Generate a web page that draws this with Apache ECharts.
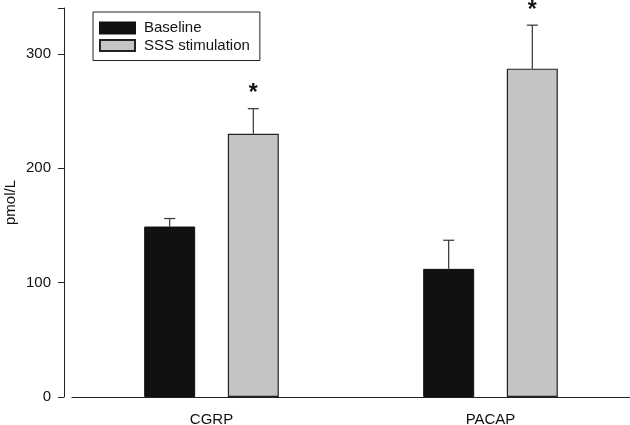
<!DOCTYPE html>
<html>
<head>
<meta charset="utf-8">
<script src="https://cdn.jsdelivr.net/npm/echarts@6/dist/echarts.min.js"></script>
<style>
html,body{margin:0;padding:0;background:#fff;}
#c{width:630px;height:425px;}
</style>
</head>
<body>
<div id="c"></div>
<script>
var categories = ['CGRP', 'PACAP'];
var seriesNames = ['Baseline', 'SSS stimulation'];
var baseline = [149, 112];
var baselineErr = [7, 25];
var stimulation = [230, 287];
var stimulationErr = [22, 38];
var stimulationSig = ['*', '*'];
var yTicks = [0, 100, 200, 300];

var FONT = 'Liberation Sans, Arial, sans-serif';
var BAR_W = 51, BAR_GAP = '64%';

function errData(vals, errs, sig) {
  return vals.map(function (v, i) { return [i, v, errs[i], sig ? sig[i] : '']; });
}

function errSeries(idx, vals, errs, sig) {
  return {
    type: 'custom',
    z: 5,
    silent: true,
    data: errData(vals, errs, sig),
    renderItem: function (params, api) {
      var cat = api.value(0), val = api.value(1), err = api.value(2);
      var mark = sig ? sig[params.dataIndex] : '';
      var layout = api.barLayout({ barWidth: BAR_W, barGap: BAR_GAP, count: 2 });
      var off = layout[idx].offsetCenter;
      var p0 = api.coord([cat, val]);
      var p1 = api.coord([cat, val + err]);
      var x = p0[0] + off;
      var cap = 5.5;
      var children = [
        { type: 'line', shape: { x1: x, y1: p0[1], x2: x, y2: p1[1] }, style: { stroke: '#333', lineWidth: 1.2 } },
        { type: 'line', shape: { x1: x - cap, y1: p1[1], x2: x + cap, y2: p1[1] }, style: { stroke: '#333', lineWidth: 1.2 } }
      ];
      if (mark) {
        children.push({ type: 'text', style: { text: mark, x: x, y: p1[1] - 15, align: 'center', verticalAlign: 'middle', font: 'bold 23px ' + FONT, fill: '#111' } });
      }
      return { type: 'group', children: children };
    }
  };
}

var chart = echarts.init(document.getElementById('c'), null, { renderer: 'canvas' });
chart.setOption({
  animation: false,
  backgroundColor: '#fff',
  textStyle: { fontFamily: FONT },
  grid: { left: 72, right: 0, top: 8, bottom: 28, containLabel: false, outerBoundsMode: 'none' },
  legend: {
    orient: 'vertical',
    left: 93, top: 12,
    padding: [8, 10, 7, 6],
    borderColor: '#222', borderWidth: 1,
    itemWidth: 35, itemHeight: 11, itemGap: 1.5,
    icon: 'rect',
    textStyle: { fontSize: 15, color: '#111', fontFamily: FONT, lineHeight: 16, padding: [0, 0, 0, 4] },
    data: seriesNames
  },
  xAxis: {
    type: 'category',
    data: categories,
    axisLine: { lineStyle: { color: '#222', width: 1 } },
    axisTick: { alignWithLabel: true, length: 5, lineStyle: { color: '#222' } },
    axisLabel: { fontSize: 15, color: '#111', margin: 15, fontFamily: FONT },
    splitLine: { show: false }
  },
  yAxis: {
    type: 'value',
    min: 0, max: 340, interval: 100,
    offset: 8,
    name: 'pmol/L',
    nameLocation: 'middle',
    nameGap: 46,
    nameMoveOverlap: false,
    nameTextStyle: { fontSize: 15, color: '#111', fontFamily: FONT },
    axisLine: { show: true, lineStyle: { color: '#222', width: 1 } },
    axisTick: { show: true, length: 6, lineStyle: { color: '#222' } },
    axisLabel: { fontSize: 15, color: '#111', margin: 13, fontFamily: FONT,
      formatter: function (v) { return yTicks.indexOf(v) >= 0 ? String(v) : ''; } },
    splitLine: { show: false }
  },
  series: [
    { name: seriesNames[0], type: 'bar', data: baseline, barWidth: BAR_W, barGap: BAR_GAP,
      itemStyle: { color: '#111111', borderColor: '#111', borderWidth: 1 } },
    { name: seriesNames[1], type: 'bar', data: stimulation, barWidth: BAR_W, barGap: BAR_GAP,
      itemStyle: { color: '#c4c4c4', borderColor: '#222', borderWidth: 1.2 } },
    errSeries(0, baseline, baselineErr, null),
    errSeries(1, stimulation, stimulationErr, stimulationSig)
  ]
});
</script>
</body>
</html>
